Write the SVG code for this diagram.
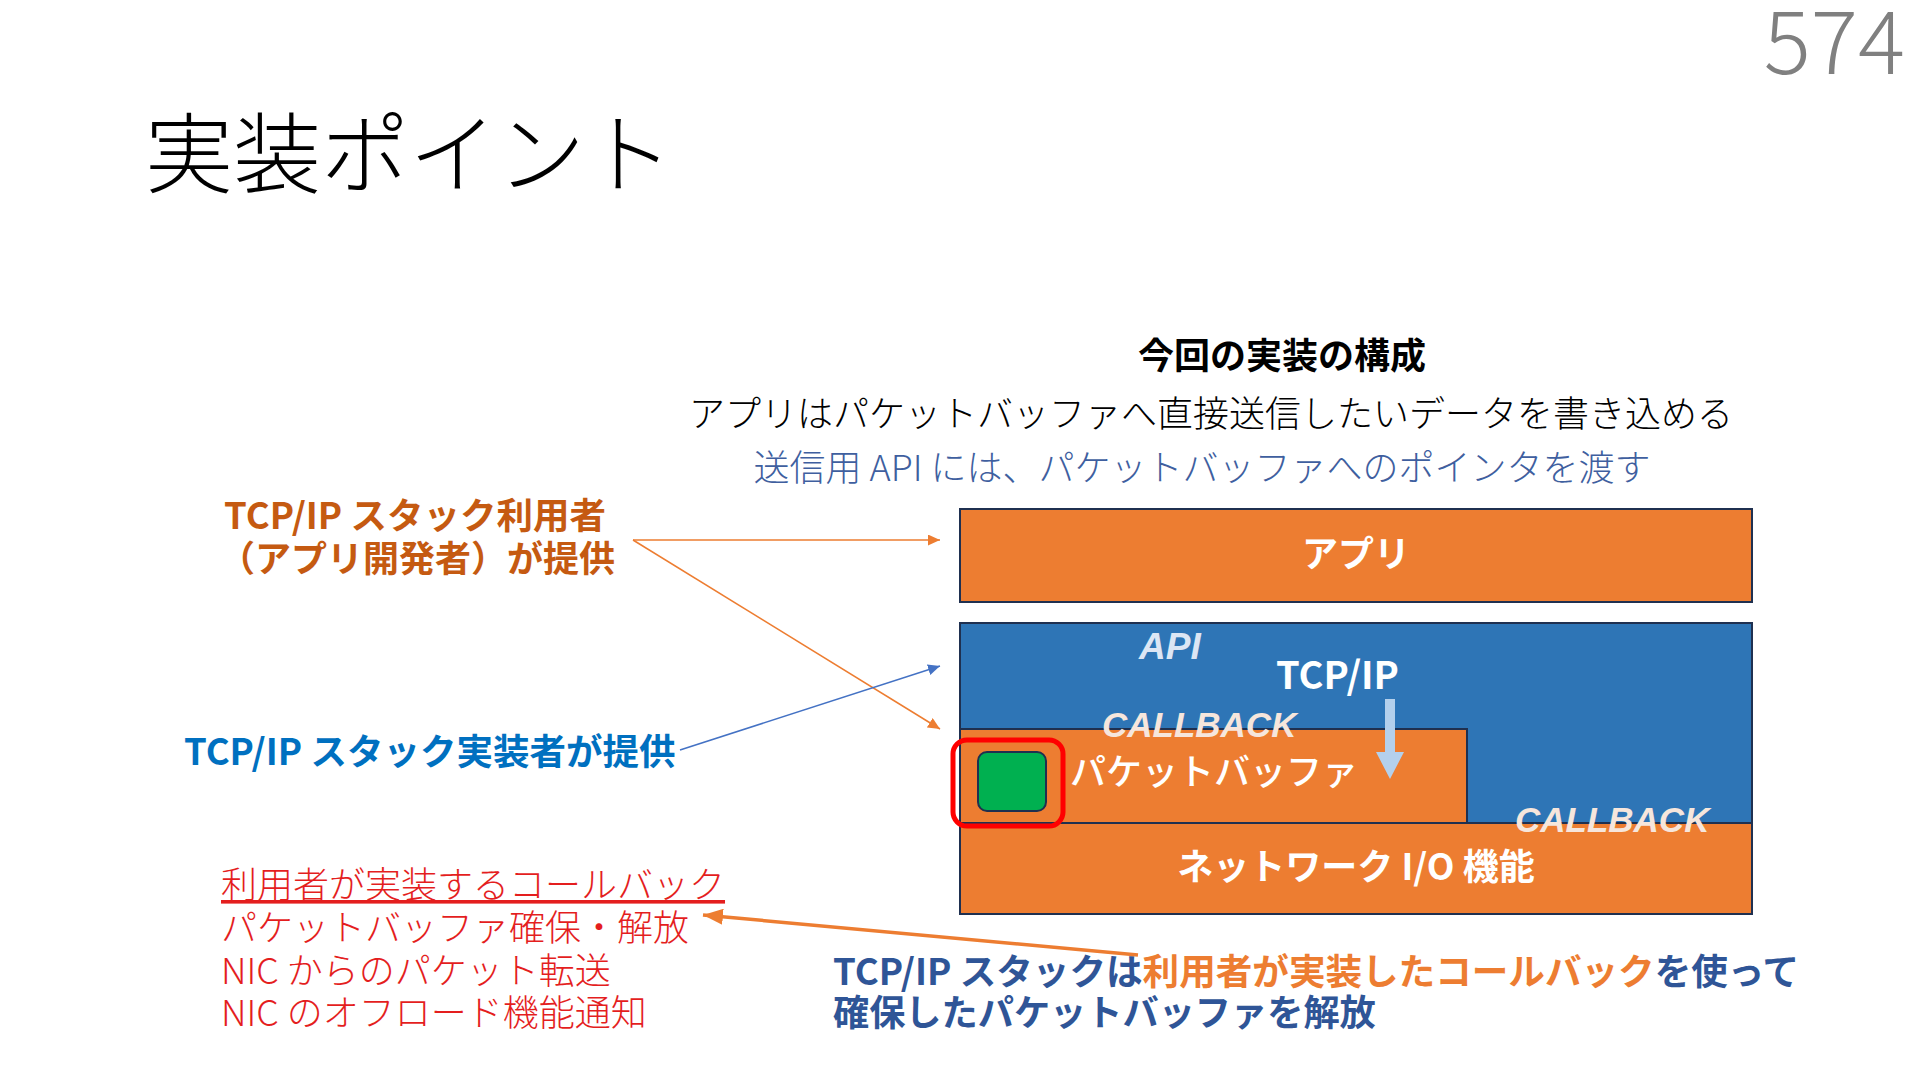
<svg xmlns="http://www.w3.org/2000/svg" width="1920" height="1080" viewBox="0 0 1920 1080">
<defs>
<style>
.jp{font-family:"Noto Sans CJK JP","Noto Sans",sans-serif;}
.lat{font-family:"Liberation Sans",Arial,sans-serif;font-weight:700;font-style:italic;}
.box{stroke:#1F3050;stroke-width:2;}
.org{fill:#ED7D31;}
.blu{fill:#2E75B6;}
.wt{fill:#FFFFFF;}
.cb{fill:#F6E6DC;font-size:35px;}
.red{fill:#E41E1E;font-size:36px;font-weight:300;}
</style>
<marker id="ahO" markerUnits="userSpaceOnUse" markerWidth="12" markerHeight="11" refX="12" refY="5.5" orient="auto"><path d="M0,0 L12,5.5 L0,11 z" fill="#ED7D31"/></marker>
<marker id="ahB" markerUnits="userSpaceOnUse" markerWidth="12" markerHeight="11" refX="12" refY="5.5" orient="auto"><path d="M0,0 L12,5.5 L0,11 z" fill="#4472C4"/></marker>
<marker id="ahT" markerUnits="userSpaceOnUse" markerWidth="20" markerHeight="16" refX="20" refY="8" orient="auto"><path d="M0,0 L20,8 L0,16 z" fill="#ED7D31"/></marker>
</defs>
<rect width="1920" height="1080" fill="#FFFFFF"/>

<g id="page-number"><text class="jp" x="1905" y="74" font-size="88" font-weight="300" fill="#808080" text-anchor="end">574</text></g>
<g id="title"><text class="jp" x="145" y="186" font-size="88" font-weight="300" fill="#000000">実装ポイント</text></g>

<g id="heading">
<text class="jp" x="1282" y="369" font-size="36" font-weight="700" fill="#000000" text-anchor="middle">今回の実装の構成</text>
<text class="jp" x="1211" y="427" font-size="36" font-weight="300" fill="#000000" text-anchor="middle">アプリはパケットバッファへ直接送信したいデータを書き込める</text>
<text class="jp" x="1202" y="481" font-size="36" font-weight="300" fill="#3F5F9F" text-anchor="middle">送信用 API には、パケットバッファへのポインタを渡す</text>
</g>

<g id="app">
<rect class="box org" x="960" y="509" width="792" height="93"/>
<text class="jp wt" x="1356" y="567" font-size="36" font-weight="700" text-anchor="middle">アプリ</text>
</g>

<g id="tcpip">
<rect class="box blu" x="960" y="623" width="792" height="200"/>
<text class="lat" x="1139" y="659" font-size="37" fill="#DCE6F4">API</text>
<text class="jp wt" x="1276" y="689" font-size="38" font-weight="700">TCP/IP</text>
</g>

<g id="packet-buffer">
<rect class="box org" x="960" y="729" width="507" height="94"/>
<text class="jp wt" x="1070" y="785" font-size="36" font-weight="500">パケットバッファ</text>
</g>

<g id="network-io">
<rect class="box org" x="960" y="823" width="792" height="91"/>
<text class="jp wt" x="1356" y="880" font-size="36" font-weight="700" text-anchor="middle">ネットワーク I/O 機能</text>
</g>

<g id="buffer-item">
<rect x="978" y="752" width="68" height="59" rx="9" fill="#00B050" stroke="#1F3050" stroke-width="2"/>
<rect x="953" y="740" width="110" height="86" rx="14" fill="none" stroke="#FF0000" stroke-width="5"/>
</g>

<g id="callback-labels">
<text class="lat cb" x="1102" y="737">CALLBACK</text>
<text class="lat cb" x="1515" y="832">CALLBACK</text>
</g>

<g id="label-user">
<text class="jp" x="415" y="529" font-size="36.5" font-weight="700" fill="#C55A11" text-anchor="middle">TCP/IP スタック利用者</text>
<text class="jp" x="417" y="572" font-size="36" font-weight="700" fill="#C55A11" text-anchor="middle">（アプリ開発者）が提供</text>
</g>

<g id="label-impl">
<text class="jp" x="184" y="765" font-size="36.5" font-weight="700" fill="#0070C0">TCP/IP スタック実装者が提供</text>
</g>

<g id="callback-list">
<text class="jp red" x="221" y="898" text-decoration="underline">利用者が実装するコールバック</text>
<text class="jp red" x="221" y="941">パケットバッファ確保・解放</text>
<text class="jp red" x="221" y="984">NIC からのパケット転送</text>
<text class="jp red" x="221" y="1026">NIC のオフロード機能通知</text>
</g>

<g id="release-note">
<text class="jp" x="833" y="985" font-size="36.6" font-weight="700" fill="#2F5597">TCP/IP スタックは<tspan fill="#ED7D31">利用者が実装したコールバック</tspan>を使って</text>
<text class="jp" x="833" y="1026" font-size="36.2" font-weight="700" fill="#2F5597">確保したパケットバッファを解放</text>
</g>

<g id="connectors">
<line x1="633" y1="540" x2="940" y2="540" stroke="#ED7D31" stroke-width="1.5" marker-end="url(#ahO)"/>
<line x1="633" y1="540" x2="940" y2="729" stroke="#ED7D31" stroke-width="1.5" marker-end="url(#ahO)"/>
<line x1="680" y1="750" x2="940" y2="666" stroke="#4472C4" stroke-width="1.5" marker-end="url(#ahB)"/>
<line x1="1138" y1="955" x2="703" y2="915" stroke="#ED7D31" stroke-width="3.5" marker-end="url(#ahT)"/>
<path d="M1385,699 H1395 V752 H1404 L1390,779 L1376,752 H1385 Z" fill="#B4D0EC"/>
</g>
</svg>
